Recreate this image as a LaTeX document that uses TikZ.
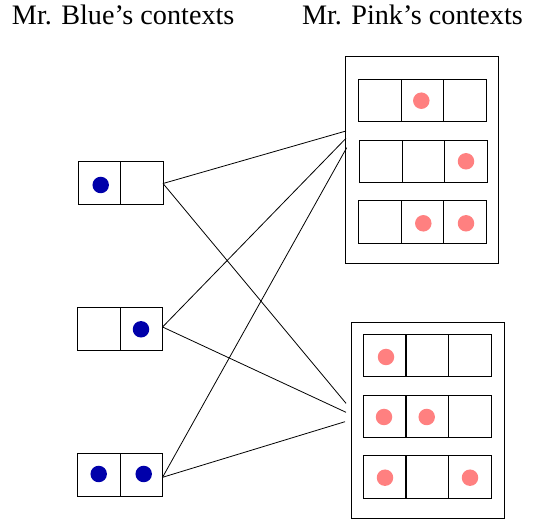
\documentclass[tikz,border=0pt]{standalone}
\usepackage{fontspec}
\setmainfont{Liberation Serif}
\definecolor{blueDot}{RGB}{0,0,170}
\definecolor{pinkDot}{RGB}{255,128,128}
\begin{document}
\begin{tikzpicture}[x=1pt,y=-1pt,line width=1pt,
  cell/.style={draw, minimum width=42.5pt, minimum height=42.5pt, inner sep=0pt, outer sep=0pt},
  bcell/.style={cell, minimum height=43pt},
  frame/.style={draw, inner sep=0pt, outer sep=0pt},
  bdot/.style={circle, fill=blueDot, minimum size=16.5pt, inner sep=0pt},
  pdot/.style={circle, fill=pinkDot, minimum size=16.5pt, inner sep=0pt},
  title/.style={anchor=base west, inner sep=0pt, font=\fontsize{28.2}{32}\selectfont},
  link/.style={draw, line width=0.8pt}]
\useasboundingbox (0,0) rectangle (536,521);

% headings
\node[title] (tb) at (11.5,25) {Mr. Blue’s contexts};
\node[title] (tp) at (301.5,25) {Mr. Pink’s contexts};

% Mr. Blue's contexts
\node[bcell] (b1l) at (99.3,183.5) {};
\node[bcell] (b1r) at (141.8,183.5) {};
\node[bdot] (b1d) at (100.7,185) {};

\node[bcell] (b2l) at (98.8,329) {};
\node[bcell] (b2r) at (141.3,329) {};
\node[bdot] (b2d) at (141,329.3) {};

\node[bcell] (b3l) at (98.8,475.3) {};
\node[bcell] (b3r) at (141.3,475.3) {};
\node[bdot] (b3d1) at (98.7,474) {};
\node[bdot] (b3d2) at (143.7,474) {};

% Mr. Pink's contexts, first group
\node[frame, minimum width=152.8pt, minimum height=206.6pt] (pA) at (421.9,160) {};
\node[cell] (a11) at (380,100.5) {};
\node[cell] (a12) at (422.5,100.5) {};
\node[cell] (a13) at (465,100.5) {};
\node[cell] (a21) at (381.2,161.3) {};
\node[cell] (a22) at (423.7,161.3) {};
\node[cell] (a23) at (466.2,161.3) {};
\node[cell] (a31) at (380,222.2) {};
\node[cell] (a32) at (422.5,222.2) {};
\node[cell] (a33) at (465,222.2) {};
\node[pdot] (ad1) at (421.3,100.7) {};
\node[pdot] (ad2) at (466,161.3) {};
\node[pdot] (ad3) at (423.3,223.3) {};
\node[pdot] (ad4) at (466,223.3) {};

% Mr. Pink's contexts, second group
\node[frame, minimum width=152.6pt, minimum height=196pt] (pB) at (428,420.3) {};
\node[cell] (c11) at (384.6,355.5) {};
\node[cell] (c12) at (427.3,355.5) {};
\node[cell] (c13) at (470,355.5) {};
\node[cell] (c21) at (384.6,416.5) {};
\node[cell] (c22) at (427.3,416.5) {};
\node[cell] (c23) at (470,416.5) {};
\node[cell] (c31) at (384.6,477) {};
\node[cell] (c32) at (427.3,477) {};
\node[cell] (c33) at (470,477) {};
\node[pdot] (cd1) at (386,357) {};
\node[pdot] (cd2) at (384,417) {};
\node[pdot] (cd3) at (426.7,417) {};
\node[pdot] (cd4) at (385,477.7) {};
\node[pdot] (cd5) at (470,477.7) {};

% connector ends at the groups
\coordinate (pa1) at (346,131);
\coordinate (pa2) at (346,138.3);
\coordinate (pa3) at (346.7,147.7);
\coordinate (pb1) at (346,403.3);
\coordinate (pb2) at (346,412.3);
\coordinate (pb3) at (345,421.7);

% links
\draw[link] (b1r.east) -- (pa1);
\draw[link] (b1r.east) -- (pb1);
\draw[link] ([yshift=2pt]b2r.east) -- (pa2);
\draw[link] ([yshift=2pt]b2r.east) -- (pb2);
\draw[link] ([yshift=-2pt]b3r.east) -- (pa3);
\draw[link] ([yshift=-2pt]b3r.east) -- (pb3);
\end{tikzpicture}
\end{document}
